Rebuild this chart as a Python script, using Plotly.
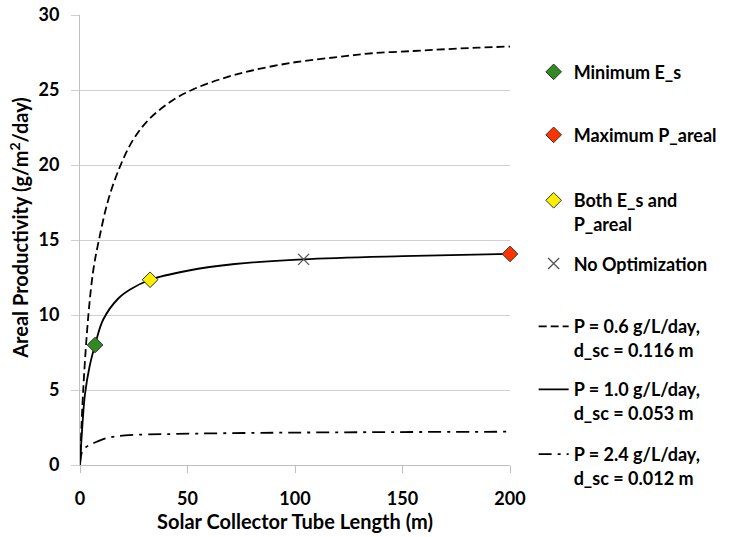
import plotly.graph_objects as go

# Curve readings (tube length m, areal productivity g/m2/day)
L_p06 = [0, 1.5, 3.9, 6.2, 8.8, 13.2, 18.9, 24.8, 31.8, 41.9, 52.7, 65.9, 80, 100, 120, 136, 155, 170, 185, 200]
Y_p06 = [0, 5.0, 10.0, 13.0, 15.0, 17.7, 20.0, 21.7, 23.0, 24.2, 25.05, 25.75, 26.3, 26.85, 27.2, 27.45, 27.6, 27.72, 27.82, 27.9]

L_p10 = [0, 0.5, 1, 2.3, 4.5, 7, 10.8, 17.8, 23.3, 32.6, 50, 72, 103.6, 150, 200]
Y_p10 = [0, 1.3, 2.4, 4.7, 6.6, 8.0, 9.7, 11.1, 11.7, 12.35, 12.95, 13.4, 13.71, 13.92, 14.07]

L_p24 = [0, 0.8, 2, 4.7, 7.8, 12.4, 21, 44, 90, 140, 200]
Y_p24 = [0, 0.8, 1.1, 1.35, 1.55, 1.8, 1.97, 2.07, 2.15, 2.19, 2.22]

min_es = ([7], [8.0])
max_pa = ([200], [14.07])
both = ([32.6], [12.35])
noopt = ([104], [13.71])

X_TICKS = [0, 50, 100, 150, 200]
Y_TICKS = [0, 5, 10, 15, 20, 25, 30]

FONT = "Lato"
LEG_X = 1.055
# legend centre positions (paper y) for each entry
LEG_Y = {"legend": 0.873, "legend2": 0.733, "legend3": 0.562, "legend4": 0.447,
         "legend5": 0.282, "legend6": 0.142, "legend7": -0.002}

fig = go.Figure()

lw = 1.8
fig.add_trace(go.Scatter(x=L_p06, y=Y_p06, mode="lines", line=dict(color="black", width=lw, dash="8px,4px", shape="spline"),
                         name="P = 0.6 g/L/day,<br>d_sc = 0.116 m", legend="legend5"))
fig.add_trace(go.Scatter(x=L_p10, y=Y_p10, mode="lines", line=dict(color="black", width=lw, shape="spline"),
                         name="P = 1.0 g/L/day,<br>d_sc = 0.053 m", legend="legend6"))
fig.add_trace(go.Scatter(x=L_p24, y=Y_p24, mode="lines", line=dict(color="black", width=lw, dash="13px,6px,3px,6px", shape="spline"),
                         name="P = 2.4 g/L/day,<br>d_sc = 0.012 m", legend="legend7"))

def mk(pt, color, name, leg):
    fig.add_trace(go.Scatter(x=pt[0], y=pt[1], mode="markers", cliponaxis=False,
                             marker=dict(symbol="diamond", size=12, color=color, line=dict(color="#333333", width=1)),
                             name=name, legend=leg))

mk(min_es, "#2f8a1f", "Minimum E_s", "legend")
mk(max_pa, "#ff3300", "Maximum P_areal", "legend2")
mk(both, "#ffee00", "Both E_s and<br>P_areal", "legend3")
fig.add_trace(go.Scatter(x=noopt[0], y=noopt[1], mode="markers", cliponaxis=False,
                         marker=dict(symbol="x-thin", size=11, line=dict(color="#555555", width=1.3)),
                         name="No Optimization", legend="legend4"))

leg_common = dict(x=LEG_X, xanchor="left", yanchor="middle", valign="top",
                  font=dict(family=FONT, size=18, color="black", weight="bold"),
                  bgcolor="rgba(0,0,0,0)", itemwidth=30)
legends = {k: dict(leg_common, y=v) for k, v in LEG_Y.items()}

fig.update_layout(
    width=735, height=537,
    margin=dict(l=80, r=225, t=15, b=72, autoexpand=False),
    paper_bgcolor="white", plot_bgcolor="white",
    font=dict(family=FONT, color="black"),
    showlegend=True,
    **legends,
)
fig.add_annotation(text="Areal Productivity (g/m<sup>2</sup>/day)", textangle=-90,
                   xref="paper", yref="paper", x=-0.142, y=0.527, xanchor="center", yanchor="middle",
                   showarrow=False, font=dict(family=FONT, size=20, weight="bold", color="black"))
fig.update_xaxes(range=[0, 200], tickvals=X_TICKS, showgrid=False, automargin=False,
                 showline=True, linecolor="#bfbfbf", linewidth=1, ticks="outside", ticklen=7, tickcolor="#bfbfbf",
                 ticklabelstandoff=10,
                 tickfont=dict(family=FONT, size=18, weight="bold"),
                 title=dict(text="Solar Collector Tube Length (m)", font=dict(family=FONT, size=20, weight="bold"), standoff=7),
                 zeroline=False)
fig.update_yaxes(range=[0, 30], tickvals=Y_TICKS, showgrid=True, gridcolor="#d0d0d0", gridwidth=1,
                 automargin=False,
                 showline=True, linecolor="#bfbfbf", linewidth=1, ticks="outside", ticklen=8, tickcolor="#d0d0d0",
                 ticklabelstandoff=8,
                 tickfont=dict(family=FONT, size=18, weight="bold"),
                 zeroline=False)

fig.write_html("out.html")
